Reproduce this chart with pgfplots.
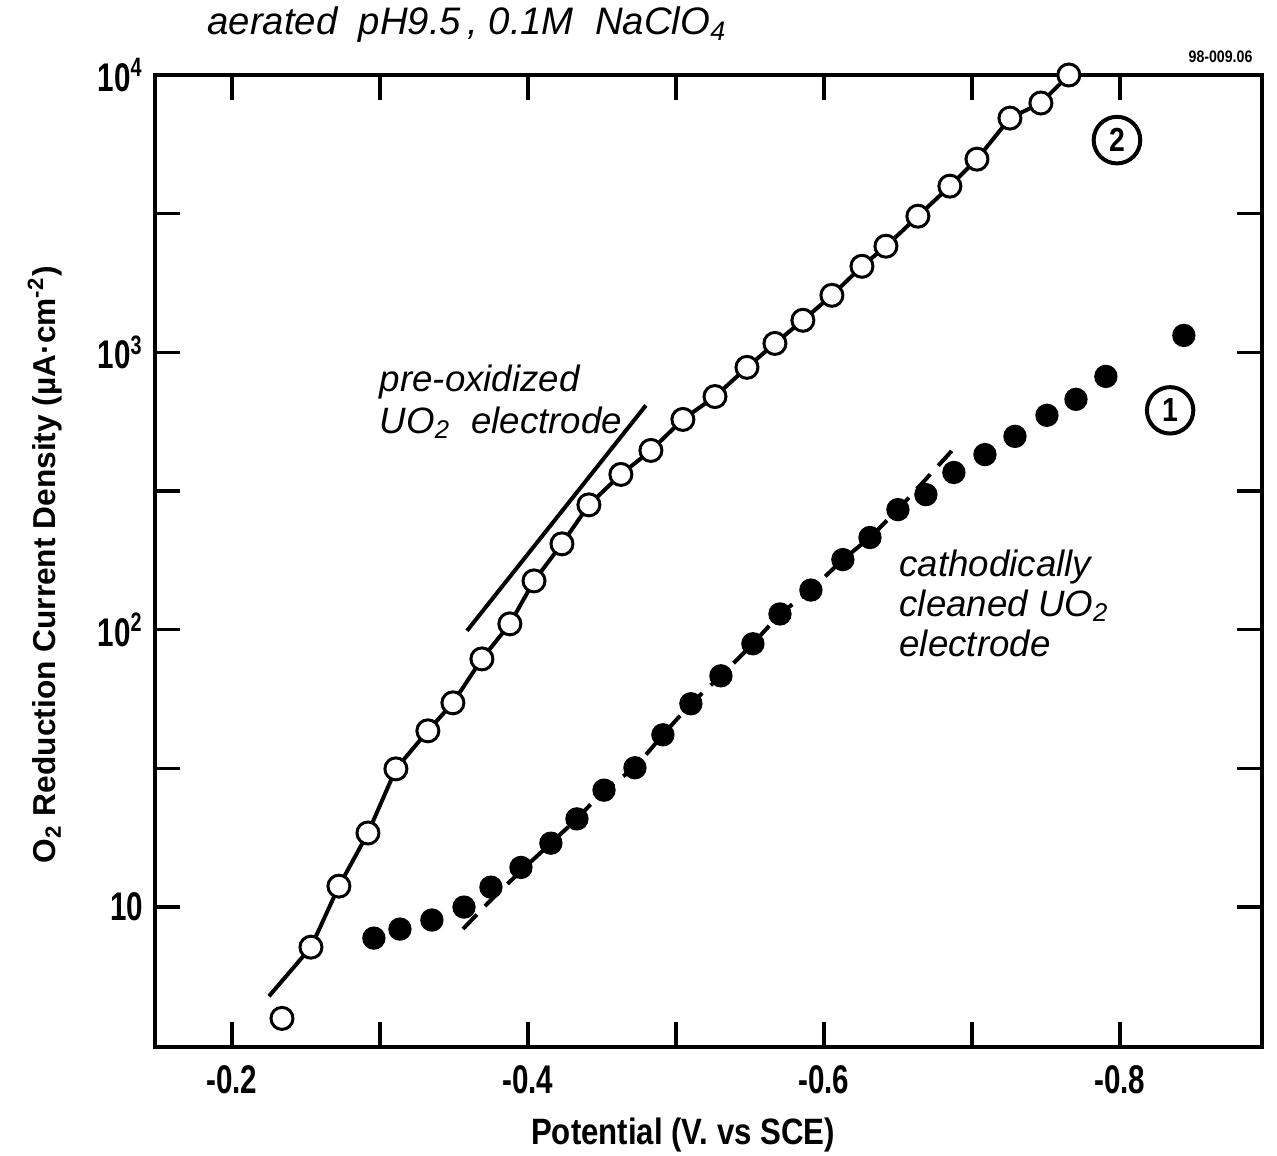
\documentclass[border=0pt]{standalone}
\usepackage{pgfplots}
\pgfplotsset{compat=1.18}
\usepackage{fontspec}
\setmainfont{Liberation Sans}
\newfontfamily\lab{Liberation Sans}[FakeStretch=0.85]
\newfontfamily\tlab{Liberation Sans}[FakeStretch=0.74]
\newfontfamily\hand{Liberation Sans}
\begin{document}
\begin{tikzpicture}
\begin{axis}[
  scale only axis, width=332.1pt, height=291.6pt,
  x dir=reverse, xmin=-0.896, xmax=-0.148,
  ymode=log, ymin=3.13, ymax=10000,
  xtick={-0.2,-0.4,-0.6,-0.8}, xticklabels={-0.2,-0.4,-0.6,-0.8},
  minor xtick={-0.3,-0.5,-0.7},
  ytick={10,100,1000,10000},
  yticklabels={10,10\textsuperscript{2},10\textsuperscript{3},10\textsuperscript{4}},
  minor ytick={31.62,316.2,3162},
  tick align=inside, major tick length=7.5pt, minor tick length=7.5pt,
  tick style={line width=1pt, black},
  axis line style={line width=1.3pt},
  xticklabel style={font=\tlab\bfseries\fontsize{12}{12}\selectfont, yshift=-2pt},
  yticklabel style={font=\tlab\bfseries\fontsize{12}{12}\selectfont},
  xlabel={Potential (V. vs SCE)},
  xlabel style={font=\lab\bfseries\fontsize{11}{11}\selectfont, at={(axis description cs:0.477,-0.0905)}, anchor=center},
  ylabel={O\textsubscript{2} Reduction Current Density (µA·cm\textsuperscript{-2})},
  ylabel style={font=\hand\bfseries\fontsize{9.5}{9.5}\selectfont, at={(axis description cs:-0.0994,0.496)}, anchor=center},
  clip=false,
]
% fitted solid line, pre-oxidized (2)
\addplot[black, line width=1.2pt] coordinates {
(-0.225,4.77) (-0.2534,7.17) (-0.2723,11.9) (-0.2919,18.5) (-0.3108,31.5)
(-0.3324,43.2) (-0.3493,54.5) (-0.3689,78.5) (-0.3878,105) (-0.4041,150)
(-0.4230,204) (-0.4412,282) (-0.4628,363) (-0.4831,443) (-0.5047,573)
(-0.5264,693) (-0.5480,883) (-0.5669,1077) (-0.5858,1305) (-0.6054,1606)
(-0.6257,2043) (-0.6419,2414) (-0.6635,3097) (-0.6851,3975) (-0.7034,4973)
(-0.7257,6993) (-0.7466,7925) (-0.7655,10000)};
% tangent line
\addplot[black, line width=1.2pt] coordinates {(-0.3588,99.1) (-0.4797,644)};
% dashed line, cathodically cleaned (1)
\addplot[black, line width=1.2pt, dash pattern=on 6pt off 3.5pt] coordinates {
(-0.3561,8.34) (-0.3757,10.7) (-0.3953,13.5) (-0.4155,17.0) (-0.4331,20.8)
(-0.4514,26.4) (-0.4723,31.8) (-0.4912,41.8) (-0.5101,54.1) (-0.5304,68.2)
(-0.5520,89.0) (-0.5703,114) (-0.5912,139) (-0.6128,179) (-0.6311,215)
(-0.6500,271) (-0.6885,454)};
% open circles (2)
\addplot[only marks, mark=*, mark size=3.3pt, mark options={fill=white, draw=black, line width=0.9pt}] coordinates {
(-0.2338,3.97) (-0.2534,7.17) (-0.2723,11.9) (-0.2919,18.5) (-0.3108,31.5)
(-0.3324,43.2) (-0.3493,54.5) (-0.3689,78.5) (-0.3878,105) (-0.4041,150)
(-0.4230,204) (-0.4412,282) (-0.4628,363) (-0.4831,443) (-0.5047,573)
(-0.5264,693) (-0.5480,883) (-0.5669,1077) (-0.5858,1305) (-0.6054,1606)
(-0.6257,2043) (-0.6419,2414) (-0.6635,3097) (-0.6851,3975) (-0.7034,4973)
(-0.7257,6993) (-0.7466,7925) (-0.7655,10000)};
% filled circles (1)
\addplot[only marks, mark=*, mark size=3.3pt, black] coordinates {
(-0.2959,7.73) (-0.3135,8.33) (-0.3351,8.98) (-0.3568,10.0) (-0.3750,11.8)
(-0.3953,13.9) (-0.4155,17.0) (-0.4331,20.8) (-0.4514,26.4) (-0.4723,31.8)
(-0.4912,41.8) (-0.5101,54.1) (-0.5304,68.2) (-0.5520,89.0) (-0.5703,114)
(-0.5912,139) (-0.6128,179) (-0.6311,215) (-0.6500,271) (-0.6689,307)
(-0.6878,369) (-0.7088,428) (-0.7291,498) (-0.7507,593) (-0.7703,677)
(-0.7905,819) (-0.8432,1151)};
% annotations
\node[font=\hand\itshape\fontsize{11.5}{11.5}\selectfont, anchor=center] at (axis description cs:0.282,1.0514) {aerated\ \ pH9.5\,,\ 0.1M\ \ NaClO\textsubscript{4}};
\node[font=\lab\bfseries\fontsize{5}{5}\selectfont, anchor=east] at (axis description cs:1.002,1.0185) {98-009.06};
\node[font=\hand\itshape\fontsize{11}{12.5}\selectfont, anchor=west, align=left] at (axis description cs:0.1925,0.6636) {pre-oxidized\\UO\textsubscript{2}\ \ electrode};
\node[font=\hand\itshape\fontsize{11}{12}\selectfont, anchor=west, align=left] at (axis description cs:0.662,0.4567) {cathodically\\cleaned UO\textsubscript{2}\\electrode};
\node[draw, circle, line width=1.2pt, inner sep=2pt, font=\lab\bfseries\fontsize{10}{10}\selectfont] at (axis description cs:0.869,0.933) {2};
\node[draw, circle, line width=1.2pt, inner sep=2pt, font=\lab\bfseries\fontsize{10}{10}\selectfont] at (axis description cs:0.917,0.655) {1};
\end{axis}
\pgfresetboundingbox
\useasboundingbox ([shift={(-46.5pt,-32.4pt)}]current axis.south west) rectangle ([shift={(4.5pt,22.5pt)}]current axis.north east);
\end{tikzpicture}
\end{document}
